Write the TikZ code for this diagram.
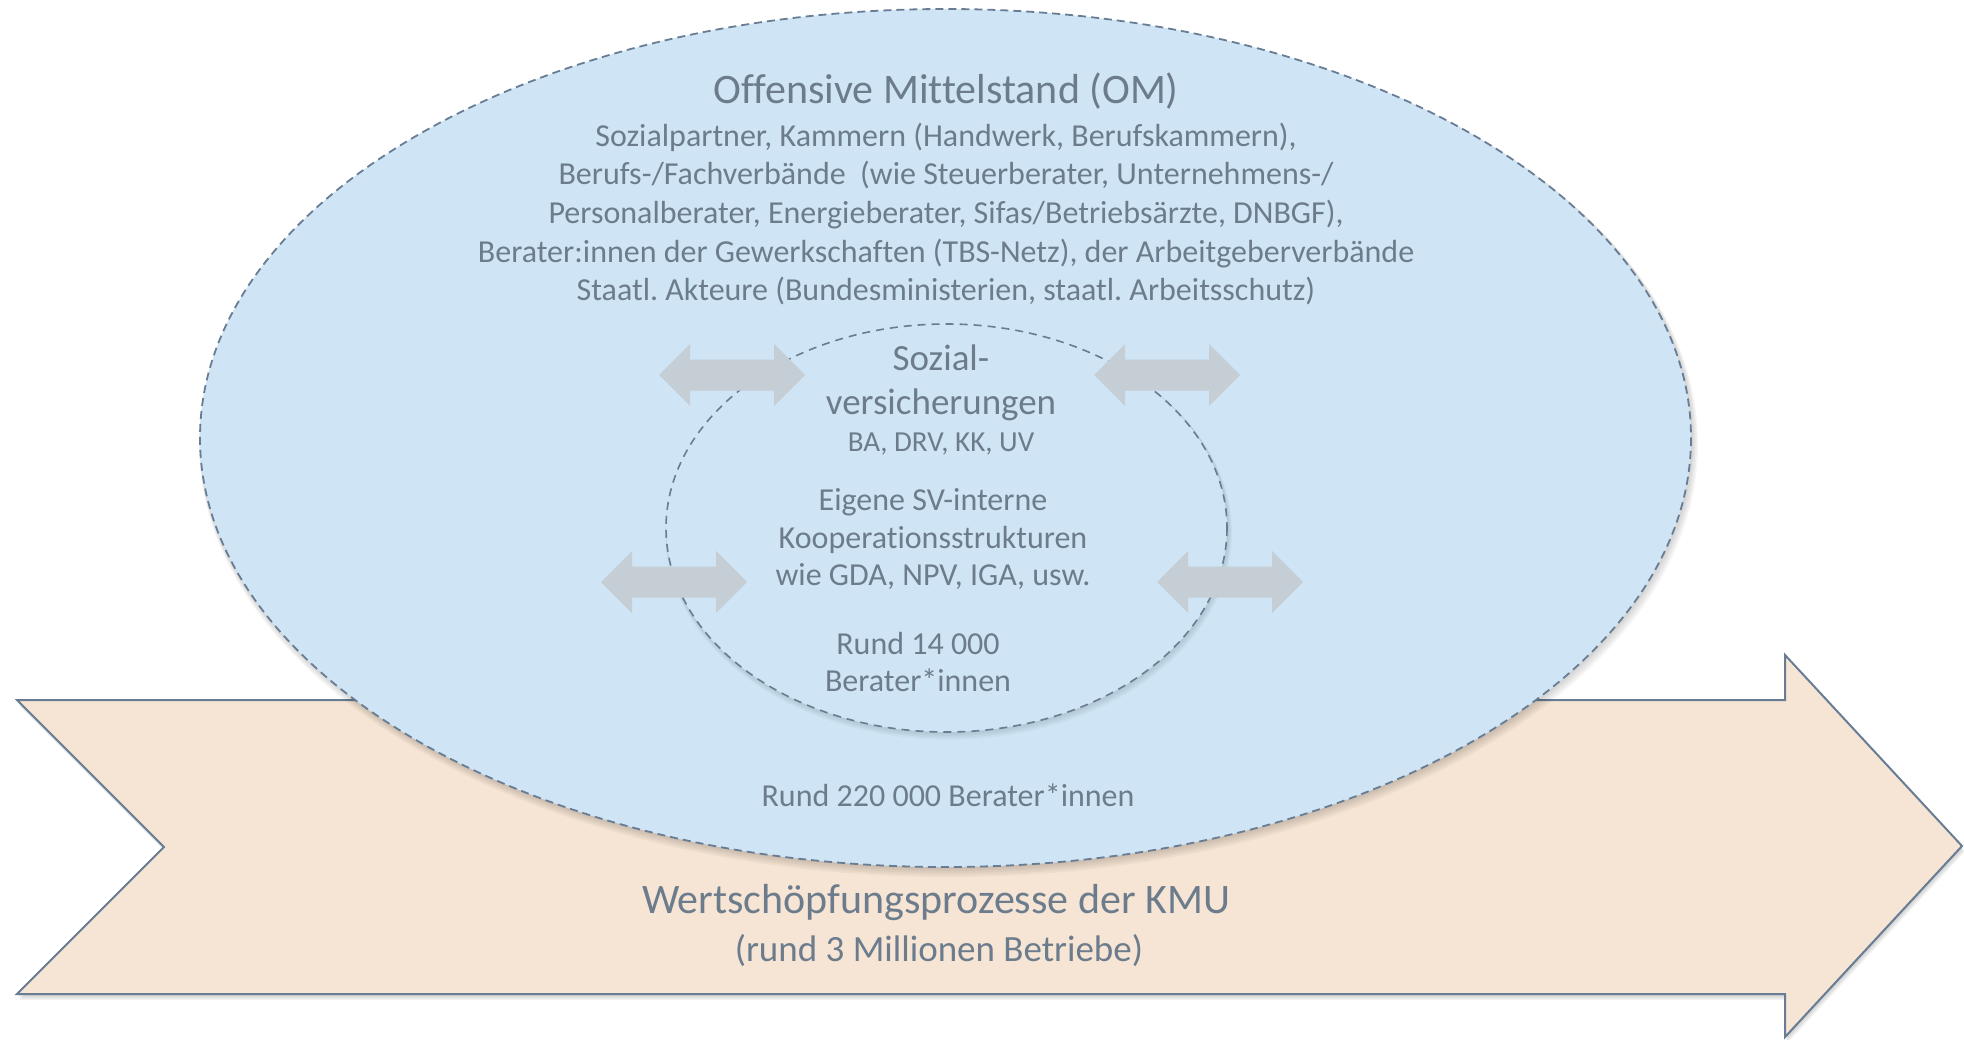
\documentclass[tikz,border=0pt]{standalone}
\usepackage{fontspec}
\setmainfont{Carlito}[Ligatures=NoCommon]
\definecolor{txt}{RGB}{108,124,140}
\definecolor{ellfill}{RGB}{207,229,245}
\definecolor{edge}{RGB}{104,125,148}
\definecolor{peach}{RGB}{246,229,212}
\definecolor{agray}{RGB}{197,205,213}
\tikzset{
  bigarrow/.pic={\path[pic actions] (17,700) -- (1785,700) -- (1785,655) -- (1962,846) -- (1785,1037) -- (1785,994) -- (17,994) -- (164,847) -- cycle;},
  darrow/.pic={\fill[agray] (-73,0) -- (-42,-31) -- (-42,-15.5) -- (42,-15.5) -- (42,-31) -- (73,0) -- (42,31) -- (42,15.5) -- (-42,15.5) -- (-42,31) -- cycle;},
  lbl/.style={text=txt, align=center, inner sep=0pt},
  dashedge/.style={draw=edge, dash pattern=on 8pt off 5pt, line width=1.8pt},
}
\begin{document}
\frenchspacing
\begin{tikzpicture}[x=1pt,y=-1pt]
\useasboundingbox (0,0) rectangle (1964,1039);
% big arrow with shadow
\foreach \s in {1,2,3,4}{
  \pic[fill=black, opacity=0.05] at (\s*0.6,\s*1.5) {bigarrow};
}
\pic[fill=peach, draw=edge, line width=2pt, line join=miter] {bigarrow};
% outer ellipse shadow
\foreach \s in {1,2,3,4,5}{
  \fill[black, opacity=0.035] (946+\s*0.5,438+\s*1.2) ellipse ({745.5+\s*0.8} and {429+\s*0.8});
}
\coordinate (outerc) at (945.5,438);
\fill[ellfill] (outerc) ellipse (745.5 and 429);
\draw[dashedge] (outerc) ellipse (745.5 and 429);
% inner ellipse
\foreach \s in {1,2,3,4}{
  \fill[black, opacity=0.03] (947+\s*0.4,528+\s*1.2) ellipse ({280.5+\s*0.7} and {204+\s*0.7});
}
\coordinate (innerc) at (946.5,528);
\fill[ellfill] (innerc) ellipse (280.5 and 204);
\draw[dashedge, line width=1.6pt, dash pattern=on 8pt off 6pt] (innerc) ellipse (280.5 and 204);
% double arrows
\pic (a1) at (732,375) {darrow};
\pic (a2) at (1167,375) {darrow};
\pic (a3) at (674,582) {darrow};
\pic (a4) at (1230,582) {darrow};
% texts
\node[lbl, font=\fontsize{42}{50}\selectfont] (title) at (946,91) {Offensive Mittelstand (OM)};
\node[lbl, font=\fontsize{32}{38.7}\selectfont] (members) at (946,214) {Sozialpartner, Kammern (Handwerk, Berufskammern),\\
Berufs-/Fachverbände\ \ (wie Steuerberater, Unternehmens-/\\
Personalberater, Energieberater, Sifas/Betriebsärzte, DNBGF),\\
Berater:innen der Gewerkschaften (TBS-Netz), der Arbeitgeberverbände\\
Staatl. Akteure (Bundesministerien, staatl. Arbeitsschutz)};
\node[lbl, font=\fontsize{37}{44}\selectfont] (sv) at (941,382.5) {Sozial-\\versicherungen};
\node[lbl, font=\fontsize{29}{34}\selectfont] (svlist) at (941,444.5) {BA, DRV, KK, UV};
\node[lbl, font=\fontsize{32}{37.5}\selectfont] (koop) at (933,539.5) {Eigene SV-interne\\Kooperationsstrukturen\\wie GDA, NPV, IGA, usw.};
\node[lbl, font=\fontsize{32}{37}\selectfont] (r14) at (918,661.5) {Rund 14 000\\Berater*innen};
\node[lbl, font=\fontsize{32}{38}\selectfont] (r220) at (948,795) {Rund 220 000 Berater*innen};
\node[lbl, font=\fontsize{42}{50}\selectfont] (kmu) at (936,903) {Wertschöpfungsprozesse der KMU};
\node[lbl, font=\fontsize{37}{44}\selectfont] (betr) at (939,951) {(rund 3 Millionen Betriebe)};
\end{tikzpicture}
\end{document}
